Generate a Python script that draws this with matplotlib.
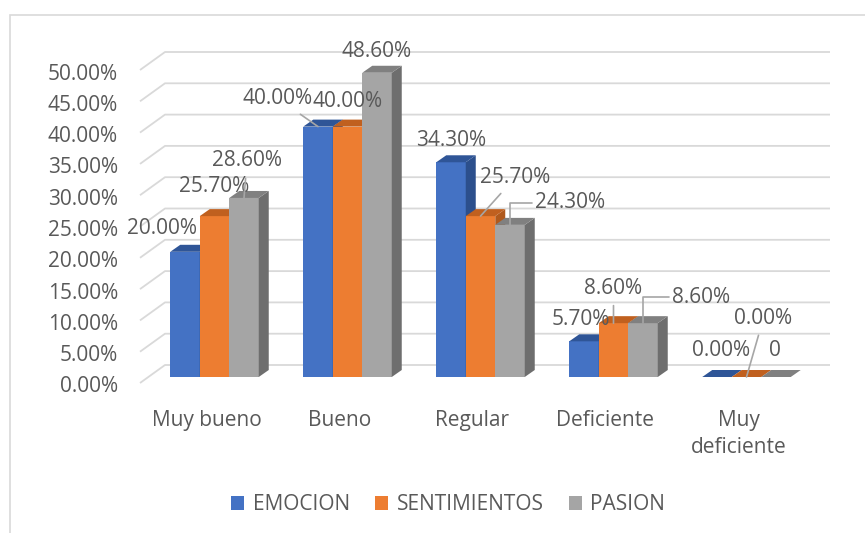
import numpy as np
import matplotlib.pyplot as plt
from matplotlib.patches import Polygon, Patch, Rectangle

# ------------------------------------------------------------
# Data
# ------------------------------------------------------------
categories = ['Muy bueno', 'Bueno', 'Regular', 'Deficiente', 'Muy\ndeficiente']
series = ['EMOCION', 'SENTIMIENTOS', 'PASION']
emocion = [20.0, 40.0, 34.3, 5.7, 0.0]
sentimientos = [25.7, 40.0, 25.7, 8.6, 0.0]
pasion = [28.6, 48.6, 24.3, 8.6, 0.0]
yticks = [0, 5, 10, 15, 20, 25, 30, 35, 40, 45, 50]

values = [emocion, sentimientos, pasion]

# Excel-like colours: front, side, top
front = ['#4472C4', '#ED7D31', '#A5A5A5']
side = ['#2C4F8C', '#B0591C', '#6E6E6E']
top = ['#2F5597', '#C0601F', '#808080']
txt = '#595959'
grid = '#D9D9D9'

plt.rcParams['font.family'] = ['Open Sans', 'DejaVu Sans']
FS = 15

# pixel scale of the data axes
W, H = 865, 533
PX_X = 133.0    # px per category
PX_Y = 6.26     # px per percent
X0, Y0 = 214.5, 377.0   # pixel of category 0 / value 0

fig = plt.figure(figsize=(W / 100, H / 100), dpi=100)
ax = fig.add_axes([0, 0, 1, 1])
ax.set_xlim(-X0 / PX_X, (W - X0) / PX_X)
ax.set_ylim(-(H - Y0) / PX_Y, Y0 / PX_Y)
ax.axis('off')

def dxp(p):
    return p / PX_X

def dyp(p):
    return p / PX_Y

# outer chart frame
fig.patches.append(Rectangle((10 / W, -0.1), 1.2, 1 - 15 / H + 0.1,
                             transform=fig.transFigure, fill=False,
                             edgecolor=grid, linewidth=1.2, zorder=0))

# back wall gridlines with slanted floor edge
back_dx, back_dy = dxp(25), dyp(12)
left_front = dxp(140 - X0)
for t in yticks:
    yb = t + back_dy
    ax.plot([left_front, left_front + back_dx, dxp(830 - X0)],
            [yb - dyp(18), yb, yb], color=grid, lw=1.3, zorder=1,
            solid_capstyle='butt')
    ax.text(dxp(118 - X0), t - dyp(10), f'{t:.2f}%', ha='right', va='center',
            fontsize=FS, color=txt)

# 3D bars
bw = dxp(29.5)
ddx, ddy = dxp(10), dyp(7)
x = np.arange(len(categories))
for i in x:
    for j in range(3):
        v = values[j][i]
        x0 = i + (j - 1.5) * bw
        x1 = x0 + bw
        ax.bar(x0, v, width=bw, align='edge', color=front[j], zorder=3)
        ax.add_patch(Polygon([(x1, 0), (x1 + ddx, ddy), (x1 + ddx, v + ddy), (x1, v)],
                             closed=True, facecolor=side[j], edgecolor='none', zorder=3))
        ax.add_patch(Polygon([(x0, v), (x1, v), (x1 + ddx, v + ddy), (x0 + ddx, v + ddy)],
                             closed=True, facecolor=top[j], edgecolor='none', zorder=3))

# data labels: pixel offsets from bar top and leader style
offsets = [
    [(-23, 23), (-40, 28), (0, 22), (-3, 22), (4, 27)],
    [(0, 30), (0, 25), (35, 39), (0, 35), (28, 27)],
    [(3, 37), (0, 21), (60, 22), (58, 26), (17, 59)],
]
leaders = [
    [None, 'line', None, None, None],
    [None, None, 'line', 'line', None],
    ['line', None, 'angle', 'angle', 'line'],
]
for j in range(3):
    for i in x:
        v = values[j][i]
        xc = i + (j - 1) * bw
        label = f'{v:.2f}%'
        if j == 1 and i == 4:
            label = '0'
        xy = (xc, v)
        if j == 2 and i == 4:
            xy = (xc - bw, v)
        kind = leaders[j][i]
        ap = None
        if kind == 'line':
            ap = dict(arrowstyle='-', color='#A6A6A6', lw=1.2, shrinkA=3, shrinkB=0)
        elif kind == 'angle':
            ap = dict(arrowstyle='-', color='#A6A6A6', lw=1.2, shrinkA=0, shrinkB=0,
                      connectionstyle='angle,angleA=0,angleB=90,rad=0')
        ax.annotate(label, xy=xy, xytext=offsets[j][i], textcoords='offset pixels',
                    ha='center', va='center', fontsize=FS, color=txt,
                    arrowprops=ap, zorder=5)

# category labels
for i, c in enumerate(categories):
    ax.text(i - dxp(8), dyp(-33), c, ha='center', va='top', fontsize=FS,
            color=txt, linespacing=1.35)

# legend
handles = [Patch(facecolor=front[j], label=series[j]) for j in range(3)]
fig.legend(handles=handles, loc='center', bbox_to_anchor=(448 / W, 1 - 505 / H),
           ncol=3, frameon=False, fontsize=FS, handlelength=0.65, handleheight=0.65,
           handletextpad=0.4, columnspacing=1.2, labelcolor=txt)

fig.savefig('out.png', dpi=100)
